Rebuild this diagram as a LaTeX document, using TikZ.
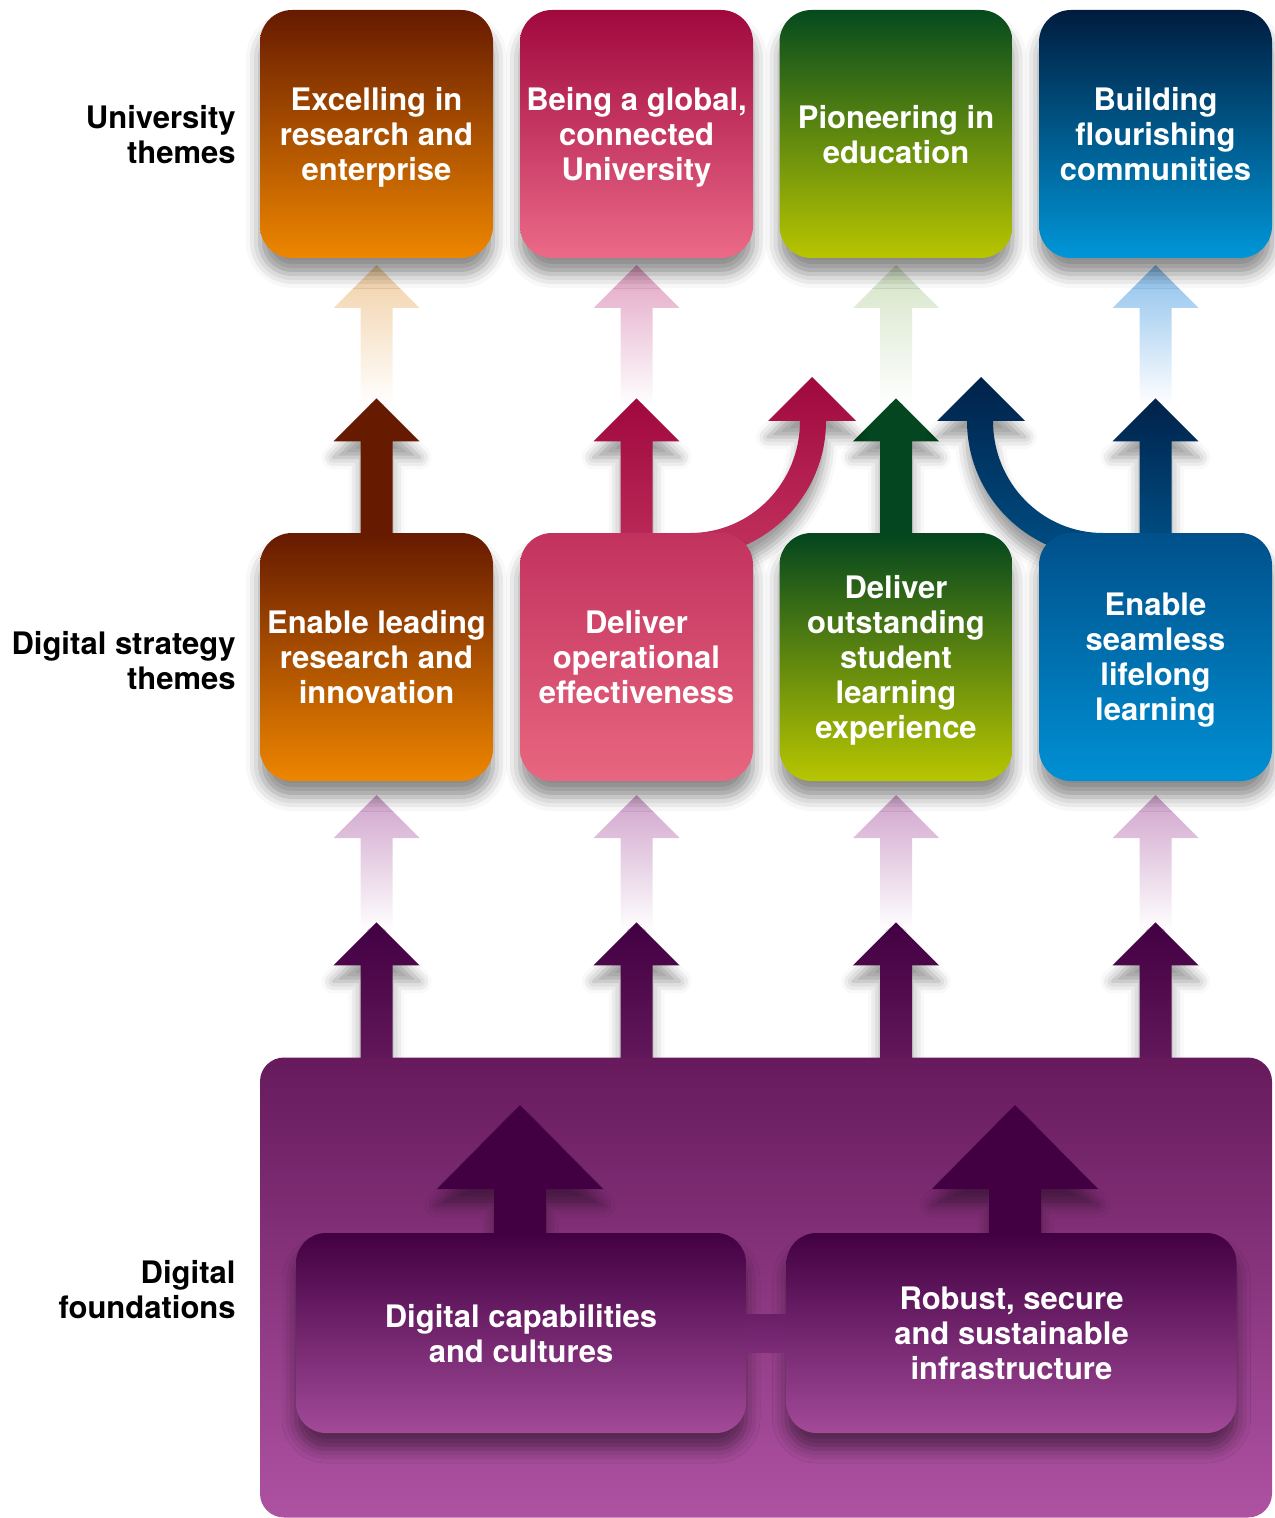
\documentclass[tikz,border=0pt]{standalone}
\usepackage{fontspec}
\setmainfont{TeX Gyre Heros}
\usetikzlibrary{calc,shadows.blur}

\newcommand\boxfont{\bfseries\fontsize{15.5}{17.5}\selectfont}

% theme colours
\definecolor{orTop}{HTML}{661A00}
\definecolor{orBot}{HTML}{EE8600}
\definecolor{pkTop}{HTML}{A0083E}
\definecolor{pkBot}{HTML}{EC6A88}
\definecolor{pkMidTop}{HTML}{C2325E}
\definecolor{pkMidBot}{HTML}{E8667F}
\definecolor{pkShaft}{HTML}{BA2A58}
\definecolor{gnTop}{HTML}{054A1E}
\definecolor{gnMidTop}{HTML}{03461F}
\definecolor{gnBot}{HTML}{B8C600}
\definecolor{blTop}{HTML}{001C3E}
\definecolor{blBot}{HTML}{0096D8}
\definecolor{blMidTop}{HTML}{00508A}
\definecolor{blMidBot}{HTML}{0090D4}
\definecolor{blHead}{HTML}{00224A}
\definecolor{blShaft}{HTML}{004E84}
\definecolor{fdTop}{HTML}{661A5C}
\definecolor{fdMid}{HTML}{A44A9A}
\definecolor{fdBot}{HTML}{AE52A2}
\definecolor{fdDark}{HTML}{420042}
\definecolor{fdShaft}{HTML}{641A5C}
\definecolor{inBot}{HTML}{A24A98}
\definecolor{linkTop}{HTML}{6A1E66}
\definecolor{linkBot}{HTML}{7C2C76}
% faded arrow tints
\definecolor{paleOr}{HTML}{F2D0A6}
\definecolor{palePk}{HTML}{E2A4C4}
\definecolor{paleGn}{HTML}{D4E4C6}
\definecolor{paleBl}{HTML}{8CC0EC}
\definecolor{palePu}{HTML}{D0A4CC}

% block arrow: #1 options, #2 base point, #3 tip point,
% #4 half shaft width, #5 half head width, #6 head length
\newcommand\blockarrow[6]{%
  \path[#1] let \p1=(#2), \p2=(#3) in
    (\x2-#4,\y1) -- (\x2-#4,\y2-#6) -- (\x2-#5,\y2-#6) -- (\x2,\y2)
    -- (\x2+#5,\y2-#6) -- (\x2+#4,\y2-#6) -- (\x2+#4,\y1) -- cycle;}

\begin{document}
\begin{tikzpicture}[x=0.5pt,y=-0.5pt,
  drop/.style={blur shadow={shadow xshift=0pt,shadow yshift=-8pt,
      shadow blur radius=7pt,shadow opacity=45}},
  arrowdrop/.style={blur shadow={shadow xshift=0pt,shadow yshift=-8pt,
      shadow blur radius=6pt,shadow opacity=40}},
  card/.style={rounded corners=16pt,minimum width=116.5pt,minimum height=124pt,
      inner sep=0pt,text=white,align=center,font=\boxfont,text depth=0pt,drop},
  basecard/.style={rounded corners=15pt,minimum width=225pt,minimum height=100pt,
      inner sep=0pt,text=white,align=center,font=\boxfont,text depth=0pt,drop,
      top color=fdDark,bottom color=inBot},
  sidelabel/.style={anchor=east,align=right,font=\boxfont,text=black,inner sep=0pt},
  pale/.style={top color=#1,bottom color=white},
]
\useasboundingbox (0,0) rectangle (1274,1518);

% column centres and the rows of arrow ends
\foreach \k/\x in {1/376.5,2/636.5,3/896,4/1155.5}{
  \coordinate (up\k)   at (\x,265);   % faded tips under the university themes
  \coordinate (uq\k)   at (\x,405);
  \coordinate (sb\k)   at (\x,545);   % strategy arrows start inside the strategy cards
  \coordinate (dp\k)   at (\x,795);   % faded tips under the strategy cards
  \coordinate (dq\k)   at (\x,931);
  \coordinate (fb\k)   at (\x,1070);  % foundation arrows start inside the panel
}

% ---- faded arrows towards the university themes
\foreach \k/\c in {1/paleOr,2/palePk,3/paleGn,4/paleBl}{
  \blockarrow{pale=\c}{uq\k}{up\k}{8pt}{21.5pt}{21.5pt}}

% ---- university themes
\node[card,top color=orTop,bottom color=orBot] (t1) at (376.5,134) {Excelling in\\research and\\enterprise};
\node[card,top color=pkTop,bottom color=pkBot] (t2) at (636.5,134) {Being a global,\\connected\\University};
\node[card,top color=gnTop,bottom color=gnBot] (t3) at (896,134) {Pioneering in\\education};
\node[card,top color=blTop,bottom color=blBot] (t4) at (1155.5,134) {Building\\flourishing\\communities};

% ---- strategy themes feeding university themes
\blockarrow{fill=orTop,arrowdrop}{sb1}{$(t1.south)+(0,140)$}{8pt}{21.5pt}{21.5pt}
\blockarrow{top color=pkTop,bottom color=pkShaft,arrowdrop}{sb2}{$(t2.south)+(0,140)$}{8pt}{21.5pt}{21.5pt}
\blockarrow{fill=gnMidTop,arrowdrop}{sb3}{$(t3.south)+(0,140)$}{8pt}{21.5pt}{21.5pt}
\blockarrow{top color=blHead,bottom color=blShaft,arrowdrop}{sb4}{$(t4.south)+(0,140)$}{8pt}{21.5pt}{21.5pt}
% curved arrows towards education
\path[top color=pkTop,bottom color=pkMidTop,arrowdrop]
  (800,421) -- (768,421) -- (812,377) -- (856,421) -- (826,421)
  .. controls (826,496) and (765,557) .. (690,557) -- (670,557) -- (670,533) -- (690,533)
  .. controls (751,533) and (800,483) .. (800,421) -- cycle;
\path[top color=blHead,bottom color=blShaft,arrowdrop]
  (993,421) -- (1025,421) -- (981,377) -- (937,421) -- (967,421)
  .. controls (967,496) and (1028,557) .. (1103,557) -- (1123,557) -- (1123,533) -- (1103,533)
  .. controls (1042,533) and (993,483) .. (993,421) -- cycle;

% ---- faded arrows towards the strategy themes
\foreach \k in {1,2,3,4}{
  \blockarrow{pale=palePu}{dq\k}{dp\k}{8pt}{21.5pt}{21.5pt}}

% ---- digital strategy themes
\node[card,top color=orTop,bottom color=orBot] (m1) at (376.5,657) {Enable leading\\research and\\innovation};
\node[card,top color=pkMidTop,bottom color=pkMidBot] (m2) at (636.5,657) {Deliver\\operational\\effectiveness};
\node[card,top color=gnMidTop,bottom color=gnBot] (m3) at (896,657) {Deliver\\outstanding\\student\\learning\\experience};
\node[card,top color=blMidTop,bottom color=blMidBot] (m4) at (1155.5,657) {Enable\\seamless\\lifelong\\learning};

% ---- foundations feeding strategy themes
\foreach \k in {1,2,3,4}{
  \blockarrow{top color=fdDark,bottom color=fdShaft,arrowdrop}{fb\k}{$(m\k.south)+(0,141)$}{8pt}{21.5pt}{21.5pt}}

% ---- digital foundations panel
\node[rounded corners=12pt,minimum width=506pt,minimum height=230pt,inner sep=0pt,
      top color=fdTop,middle color=fdMid,bottom color=fdBot] (bb) at (766,1287.5) {};
\coordinate (ib1) at (520,1245);
\coordinate (ib2) at (1015,1245);
\coordinate (it1) at (520,1105);
\coordinate (it2) at (1015,1105);
\blockarrow{fill=fdDark,arrowdrop}{ib1}{it1}{13pt}{41.5pt}{42pt}
\blockarrow{fill=fdDark,arrowdrop}{ib2}{it2}{13pt}{41.5pt}{42pt}

\node[basecard] (i1) at (521,1333) {Digital capabilities\\and cultures};
\node[basecard] (i2) at (1011.5,1333) {Robust, secure\\and sustainable\\infrastructure};
% link between the two foundations
\path[top color=linkTop,bottom color=linkBot] (i1.east |- 0,1314) rectangle (i2.west |- 0,1352);

% ---- row labels
\node[sidelabel] (lab1) at (236,134.5) {University\\themes};
\node[sidelabel] (lab2) at (236,660.5) {Digital strategy\\themes};
\node[sidelabel] (lab3) at (236,1289.5) {Digital\\foundations};
\end{tikzpicture}
\end{document}
